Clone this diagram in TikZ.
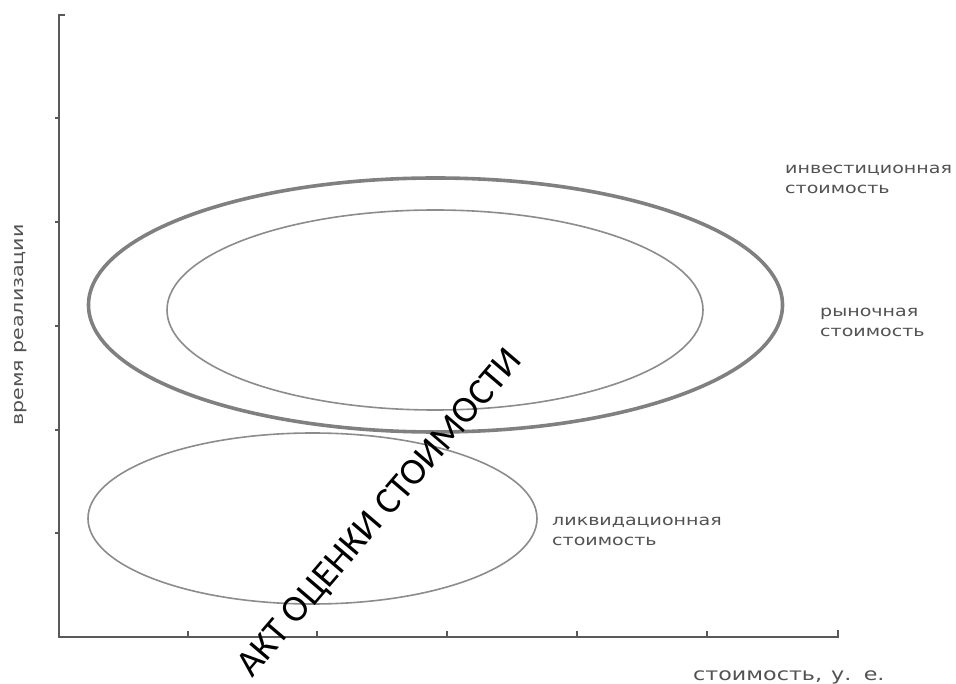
\documentclass[tikz,border=0pt]{standalone}
\usepackage{fontspec}
\setmainfont{DejaVu Sans}
\newfontfamily\labelfont[FakeStretch=1.27]{DejaVu Sans}
\newfontfamily\markfont{Carlito}
\begin{document}
\begin{tikzpicture}[x=1pt,y=-1pt,
  axisline/.style={draw=black!65, line width=2pt},
  ticktick/.style={draw=black!65, line width=1.2pt},
  oval/.style={draw=black!45, line width=1.6pt},
  heavyoval/.style={draw=black!50, line width=3.6pt},
  lbl/.style={text=black!68, font=\labelfont\fontsize{15}{19.5}\selectfont, align=left, anchor=north west, inner sep=0pt},
  stamp/.style={text=black, font=\markfont\fontsize{37.5}{42}\selectfont, inner sep=0pt}]
\useasboundingbox[fill=white] (0,0) rectangle (956,684);
% axes
\coordinate (top) at (59,15);
\coordinate (origin) at (59,637);
\coordinate (xend) at (838,637);
\draw[axisline] (65,15) -- (top) -- (origin) -- (xend) -- (838,630);
\foreach \yy in {118,222,326,430,533} \draw[ticktick] (55,\yy) -- (59,\yy);
\foreach \xx in {188,317,447,577,707} \draw[ticktick] (\xx,637) -- (\xx,631);
% value ellipses
\draw[heavyoval] (435.5,305) ellipse [x radius=347, y radius=127];
\draw[oval] (435,310) ellipse [x radius=268, y radius=100];
\draw[oval] (312.5,518.5) ellipse [x radius=224.5, y radius=85.5];
% labels
\node[lbl] (linv) at (785,165) {инвестиционная\\стоимость};
\node[lbl] (lmkt) at (820,308) {рыночная\\стоимость};
\node[lbl] (lliq) at (552,517) {ликвидационная\\стоимость};
\node[lbl, font=\labelfont\fontsize{17.5}{20}\selectfont] (lx) at (693,670.5) {стоимость,\hspace{2pt} у.\hspace{3pt} е.};
\node[lbl, font=\labelfont\fontsize{16.2}{19.5}\selectfont, anchor=center, rotate=90] (ly) at (21,325) {время реализации};
% stamp
\node[stamp, rotate=49.5] (mark) at (381,514) {АКТ ОЦЕНКИ СТОИМОСТИ};
\end{tikzpicture}
\end{document}
